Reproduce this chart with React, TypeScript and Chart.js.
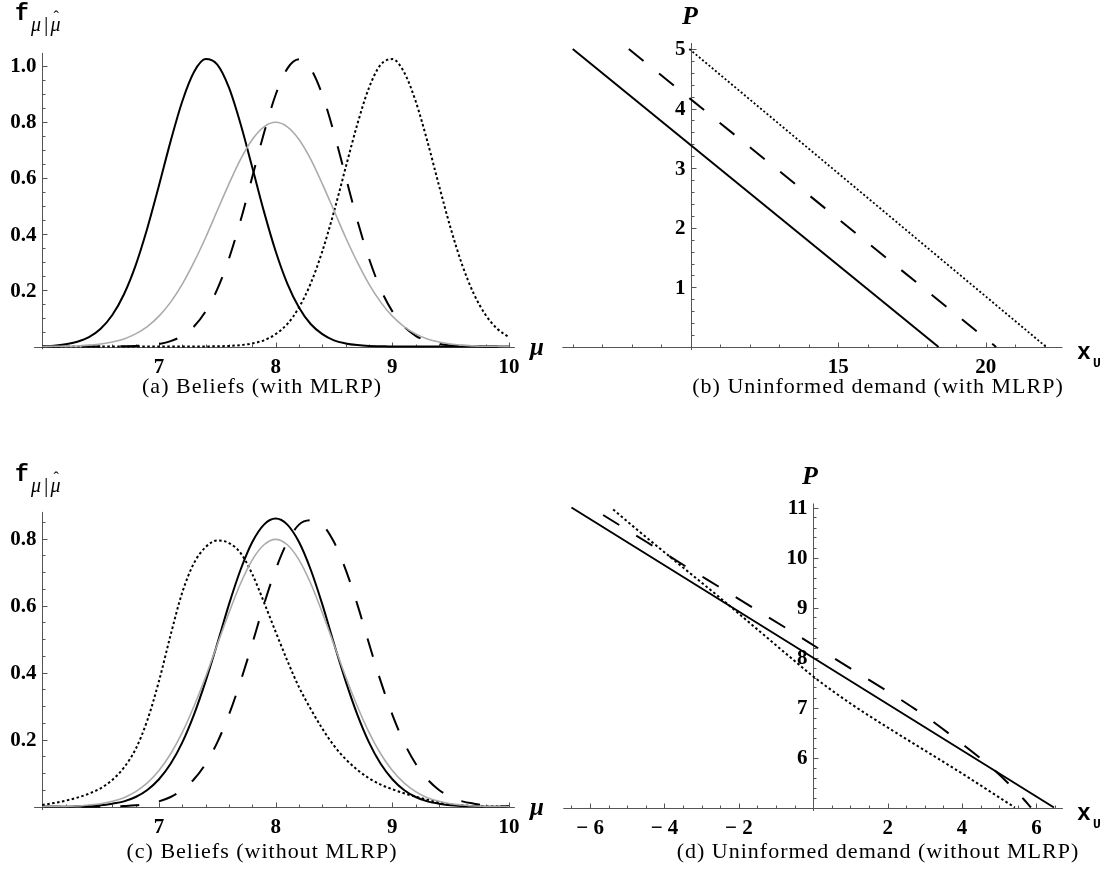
import React, { useEffect, useRef } from "react";
import { Chart, registerables } from "chart.js";

Chart.register(...registerables);

// ---------- data ----------
const MU_GRID = [6.0, 6.1, 6.2, 6.3, 6.4, 6.5, 6.6, 6.7, 6.8, 6.9, 7.0, 7.1, 7.2, 7.3, 7.4, 7.5, 7.6, 7.7, 7.8, 7.9, 8.0, 8.1, 8.2, 8.3, 8.4, 8.5, 8.6, 8.7, 8.8, 8.9, 9.0, 9.1, 9.2, 9.3, 9.4, 9.5, 9.6, 9.7, 9.8, 9.9, 10.0];

// (a) beliefs with MLRP
const A_SOLID = [0.001, 0.003, 0.008, 0.017, 0.033, 0.063, 0.112, 0.186, 0.289, 0.421, 0.573, 0.731, 0.873, 0.977, 1.023, 1.003, 0.921, 0.791, 0.637, 0.480, 0.339, 0.224, 0.139, 0.080, 0.044, 0.022, 0.011, 0.005, 0.002, 0.001, 0, 0, 0, 0, 0, 0, 0, 0, 0, 0, 0];
const A_DASHED = [0, 0, 0, 0, 0, 0, 0, 0.001, 0.002, 0.004, 0.009, 0.019, 0.038, 0.071, 0.125, 0.204, 0.313, 0.449, 0.604, 0.760, 0.896, 0.989, 1.022, 0.989, 0.896, 0.760, 0.604, 0.449, 0.313, 0.204, 0.125, 0.071, 0.038, 0.019, 0.009, 0.004, 0.002, 0.001, 0, 0, 0];
const A_DOTTED = [0, 0, 0, 0, 0, 0, 0, 0, 0, 0, 0, 0, 0, 0, 0, 0.001, 0.002, 0.005, 0.011, 0.022, 0.044, 0.080, 0.139, 0.224, 0.339, 0.480, 0.637, 0.791, 0.921, 1.003, 1.023, 0.977, 0.873, 0.731, 0.573, 0.421, 0.289, 0.186, 0.112, 0.063, 0.033];
const PRIOR_GRAY = [0.000, 0.001, 0.001, 0.002, 0.005, 0.009, 0.016, 0.027, 0.045, 0.071, 0.108, 0.158, 0.222, 0.300, 0.388, 0.484, 0.579, 0.667, 0.737, 0.782, 0.798, 0.782, 0.737, 0.667, 0.579, 0.484, 0.388, 0.300, 0.222, 0.158, 0.108, 0.071, 0.045, 0.027, 0.016, 0.009, 0.005, 0.002, 0.001, 0.001, 0.000];

// (c) beliefs without MLRP
const C_SOLID = [0, 0, 0, 0.001, 0.002, 0.004, 0.009, 0.016, 0.029, 0.050, 0.082, 0.128, 0.192, 0.275, 0.375, 0.487, 0.604, 0.708, 0.790, 0.842, 0.860, 0.842, 0.790, 0.708, 0.604, 0.487, 0.375, 0.275, 0.192, 0.128, 0.082, 0.050, 0.029, 0.016, 0.009, 0.004, 0.002, 0.001, 0, 0, 0];
const C_DASHED = [0, 0, 0, 0, 0, 0, 0.001, 0.002, 0.004, 0.009, 0.016, 0.029, 0.050, 0.082, 0.128, 0.192, 0.275, 0.375, 0.487, 0.604, 0.708, 0.790, 0.842, 0.855, 0.842, 0.790, 0.708, 0.604, 0.487, 0.375, 0.275, 0.192, 0.128, 0.082, 0.050, 0.029, 0.016, 0.009, 0.004, 0.002, 0.001];
const C_DOTTED = [0.005, 0.011, 0.018, 0.027, 0.039, 0.055, 0.080, 0.117, 0.172, 0.258, 0.375, 0.513, 0.640, 0.727, 0.775, 0.795, 0.787, 0.757, 0.694, 0.610, 0.522, 0.436, 0.357, 0.292, 0.233, 0.182, 0.142, 0.110, 0.085, 0.066, 0.052, 0.040, 0.030, 0.021, 0.013, 0.007, 0.004, 0.002, 0.001, 0.001, 0.000];

// (b) uninformed demand with MLRP
const B_SOLID_X = [6.0, 18.4];
const B_SOLID_P = [5.0, 0.0];
const B_DASHED_X = [7.9, 20.35];
const B_DASHED_P = [5.0, 0.0];
const B_DOTTED_X = [9.95, 22.05];
const B_DOTTED_P = [5.0, 0.0];

// (d) uninformed demand without MLRP
const D_SOLID_X = [-6.5, 6.47];
const D_SOLID_P = [11.0, 5.0];
const D_DASHED_X = [-5.65, -4.48, -3.49, -2.55, -1.61, -0.67, 0.27, 1.26, 2.2, 3.12, 3.99, 4.88, 5.65, 5.85];
const D_DASHED_P = [10.85, 10.31, 9.85, 9.42, 8.99, 8.56, 8.12, 7.66, 7.23, 6.77, 6.28, 5.74, 5.17, 5.0];
const D_DOTTED_X = [-5.38, -4.5, -3.5, -2.5, -1.5, -0.5, 0, 1.0, 2.0, 3.0, 4.0, 5.0, 5.42];
const D_DOTTED_P = [10.96, 10.41, 9.8, 9.19, 8.56, 7.93, 7.62, 7.08, 6.6, 6.14, 5.68, 5.2, 5.0];

// tick labels
const BELIEF_X_TICKS = [7, 8, 9, 10];
const BELIEF_X_LABELS = ["7", "8", "9", "10"];
const A_Y_TICKS = [0.2, 0.4, 0.6, 0.8, 1.0];
const A_Y_LABELS = ["0.2", "0.4", "0.6", "0.8", "1.0"];
const C_Y_TICKS = [0.2, 0.4, 0.6, 0.8];
const C_Y_LABELS = ["0.2", "0.4", "0.6", "0.8"];
const B_X_TICKS = [15, 20];
const B_X_LABELS = ["15", "20"];
const B_Y_TICKS = [1, 2, 3, 4, 5];
const B_Y_LABELS = ["1", "2", "3", "4", "5"];
const D_X_TICKS = [-6, -4, -2, 2, 4, 6];
const D_X_LABELS = ["\u2212 6", "\u2212 4", "\u2212 2", "2", "4", "6"];
const D_Y_TICKS = [6, 7, 8, 9, 10, 11];
const D_Y_LABELS = ["6", "7", "8", "9", "10", "11"];

// ---------- helpers ----------
const AXIS_COLOR = "#555555";
const TICK_FONT = 'bold 21px "Liberation Serif", "Times New Roman", serif';

function minorTicks(from: number, to: number, step: number, skip: number[]) {
  const out: number[] = [];
  const n = Math.round((to - from) / step);
  for (let i = 0; i <= n; i++) {
    const v = +(from + i * step).toFixed(4);
    if (!skip.some((s) => Math.abs(s - v) < 1e-6)) out.push(v);
  }
  return out;
}

const mathAxes = {
  id: "mathAxes",
  beforeDatasetsDraw(chart: any) {
    const o = chart.options.plugins.mathAxes;
    if (!o) return;
    const { ctx } = chart;
    const xs = chart.scales.x;
    const ys = chart.scales.y;
    const px = (v: number) => xs.getPixelForValue(v);
    const py = (v: number) => ys.getPixelForValue(v);
    const ax = Math.round(px(o.originX)) + 0.5;
    const ay = Math.round(py(o.originY)) + 0.5;
    ctx.save();
    ctx.strokeStyle = AXIS_COLOR;
    ctx.lineWidth = 1;
    ctx.beginPath();
    ctx.moveTo(px(o.xFrom), ay);
    ctx.lineTo(px(o.xTo), ay);
    ctx.moveTo(ax, py(o.yFrom));
    ctx.lineTo(ax, py(o.yTo));
    o.xMinor.forEach((v: number) => {
      const p = Math.round(px(v)) + 0.5;
      ctx.moveTo(p, ay);
      ctx.lineTo(p, ay - 3);
    });
    o.xMajor.forEach((v: number) => {
      const p = Math.round(px(v)) + 0.5;
      ctx.moveTo(p, ay);
      ctx.lineTo(p, ay - 5);
    });
    o.yMinor.forEach((v: number) => {
      const p = Math.round(py(v)) + 0.5;
      ctx.moveTo(ax, p);
      ctx.lineTo(ax + 3, p);
    });
    o.yMajor.forEach((v: number) => {
      const p = Math.round(py(v)) + 0.5;
      ctx.moveTo(ax, p);
      ctx.lineTo(ax + 5, p);
    });
    ctx.stroke();
    ctx.fillStyle = "#000";
    ctx.font = TICK_FONT;
    ctx.textAlign = "center";
    ctx.textBaseline = "middle";
    o.xMajor.forEach((v: number, i: number) => ctx.fillText(o.xLabels[i], px(v), ay + 20));
    ctx.textAlign = "right";
    o.yMajor.forEach((v: number, i: number) => ctx.fillText(o.yLabels[i], ax - 6, py(v) + 1));
    ctx.restore();
  },
};

const pts = (xs: number[], ys: number[]) => xs.map((x, i) => ({ x, y: ys[i] }));

const DASH = [19, 20];
const DOT = [2.5, 2.5];

function lineDs(data: any[], kind: string, curved: boolean) {
  const base: any = {
    data,
    borderColor: "#000",
    borderWidth: 2,
    pointRadius: 0,
    fill: false,
    clip: false,
    tension: 0,
  };
  if (curved) {
    base.cubicInterpolationMode = "monotone";
  }
  if (kind === "gray") {
    base.borderColor = "#ababab";
    base.borderWidth = 1.6;
  } else if (kind === "dashed") {
    base.borderDash = DASH;
  } else if (kind === "dotted") {
    base.borderDash = DOT;
  }
  return base;
}

type PanelCfg = {
  left: number; top: number; w: number; h: number;
  plotL: number; plotR: number; plotT: number; plotB: number;
  xMin: number; xMax: number; yMin: number; yMax: number;
  datasets: any[];
  axes: any;
};

const PANELS: PanelCfg[] = [
  {
    left: 0, top: 0, w: 556, h: 400,
    plotL: 42.3, plotR: 509, plotT: 52.9, plotB: 346.5,
    xMin: 6, xMax: 10, yMin: 0, yMax: 1.045,
    datasets: [
      lineDs(pts(MU_GRID, PRIOR_GRAY), "gray", true),
      lineDs(pts(MU_GRID, A_SOLID), "solid", true),
      lineDs(pts(MU_GRID, A_DASHED), "dashed", true),
      lineDs(pts(MU_GRID, A_DOTTED), "dotted", true),
    ],
    axes: {
      originX: 6, originY: 0, xFrom: 5.93, xTo: 10.05, yFrom: -0.01, yTo: 1.045,
      xMajor: BELIEF_X_TICKS, xLabels: BELIEF_X_LABELS, xMinor: minorTicks(6.2, 9.8, 0.2, BELIEF_X_TICKS),
      yMajor: A_Y_TICKS, yLabels: A_Y_LABELS, yMinor: minorTicks(0.05, 1.0, 0.05, A_Y_TICKS),
    },
  },
  {
    left: 556, top: 0, w: 556, h: 400,
    plotL: 562.4, plotR: 1062.5, plotT: 43, plotB: 347,
    xMin: 5.65, xMax: 22.6, yMin: 0, yMax: 5.1,
    datasets: [
      lineDs(pts(B_SOLID_X, B_SOLID_P), "solid", false),
      lineDs(pts(B_DASHED_X, B_DASHED_P), "dashed", false),
      { ...lineDs(pts(B_DOTTED_X, B_DOTTED_P), "dotted", false), borderWidth: 1.8, borderDash: [2, 2.2] },
    ],
    axes: {
      originX: 10, originY: 0, xFrom: 5.65, xTo: 22.6, yFrom: -0.05, yTo: 5.1,
      xMajor: B_X_TICKS, xLabels: B_X_LABELS, xMinor: minorTicks(6, 22, 1, [10, 15, 20]),
      yMajor: B_Y_TICKS, yLabels: B_Y_LABELS, yMinor: minorTicks(0.2, 5.0, 0.2, B_Y_TICKS),
    },
  },
  {
    left: 0, top: 440, w: 556, h: 452,
    plotL: 42.3, plotR: 509, plotT: 511.9, plotB: 806.7,
    xMin: 6, xMax: 10, yMin: 0, yMax: 0.88,
    datasets: [
      lineDs(pts(MU_GRID, PRIOR_GRAY), "gray", true),
      lineDs(pts(MU_GRID, C_SOLID), "solid", true),
      lineDs(pts(MU_GRID, C_DASHED), "dashed", true),
      lineDs(pts(MU_GRID, C_DOTTED), "dotted", true),
    ],
    axes: {
      originX: 6, originY: 0, xFrom: 5.93, xTo: 10.05, yFrom: -0.01, yTo: 0.88,
      xMajor: BELIEF_X_TICKS, xLabels: BELIEF_X_LABELS, xMinor: minorTicks(6.2, 9.8, 0.2, BELIEF_X_TICKS),
      yMajor: C_Y_TICKS, yLabels: C_Y_LABELS, yMinor: minorTicks(0.05, 0.85, 0.05, C_Y_TICKS),
    },
  },
  {
    left: 556, top: 440, w: 556, h: 452,
    plotL: 563.3, plotR: 1062.9, plotT: 503.5, plotB: 807.5,
    xMin: -6.72, xMax: 6.71, yMin: 5, yMax: 11.08,
    datasets: [
      lineDs(pts(D_SOLID_X, D_SOLID_P), "solid", false),
      lineDs(pts(D_DASHED_X, D_DASHED_P), "dashed", true),
      lineDs(pts(D_DOTTED_X, D_DOTTED_P), "dotted", true),
    ],
    axes: {
      originX: 0, originY: 5, xFrom: -6.72, xTo: 6.71, yFrom: 4.93, yTo: 11.08,
      xMajor: D_X_TICKS, xLabels: D_X_LABELS, xMinor: minorTicks(-6.5, 6.5, 0.5, [...D_X_TICKS, 0]),
      yMajor: D_Y_TICKS, yLabels: D_Y_LABELS, yMinor: minorTicks(5.2, 11.0, 0.2, D_Y_TICKS),
    },
  },
];

function Panel({ cfg }: { cfg: PanelCfg }) {
  const ref = useRef<HTMLCanvasElement | null>(null);
  useEffect(() => {
    if (!ref.current) return;
    const chart = new Chart(ref.current, {
      type: "line",
      data: { datasets: cfg.datasets },
      options: {
        animation: false,
        responsive: false,
        devicePixelRatio: 1,
        parsing: false,
        layout: {
          padding: {
            left: cfg.plotL - cfg.left,
            right: cfg.left + cfg.w - cfg.plotR,
            top: cfg.plotT - cfg.top,
            bottom: cfg.top + cfg.h - cfg.plotB,
          },
        },
        scales: {
          x: { type: "linear", min: cfg.xMin, max: cfg.xMax, display: false },
          y: { type: "linear", min: cfg.yMin, max: cfg.yMax, display: false },
        },
        plugins: {
          legend: { display: false },
          tooltip: { enabled: false },
          mathAxes: cfg.axes,
        } as any,
      },
      plugins: [mathAxes as any],
    } as any);
    return () => chart.destroy();
  }, [cfg]);
  return (
    <canvas
      ref={ref}
      width={cfg.w}
      height={cfg.h}
      style={{ position: "absolute", left: cfg.left, top: cfg.top, width: cfg.w, height: cfg.h }}
    />
  );
}

const SERIF = '"Liberation Serif", "Times New Roman", serif';
const MONO = '"Liberation Mono", "Courier New", monospace';

function Txt({ left, top, font, children }: any) {
  return (
    <div style={{ position: "absolute", left, top, font, lineHeight: 1, whiteSpace: "nowrap", color: "#000" }}>
      {children}
    </div>
  );
}

function DensityLabel({ top }: { top: number }) {
  return (
    <>
      <Txt left={15} top={top} font={`bold 23px ${MONO}`}>f</Txt>
      <div
        style={{
          position: "absolute", left: 31, top: top + 10, font: `italic 20px ${SERIF}`,
          lineHeight: 1, whiteSpace: "nowrap", color: "#000",
        }}
      >
        μ
        <span style={{ fontStyle: "normal", fontSize: 22, margin: "0 2px 0 3px" }}>|</span>
        <span style={{ position: "relative" }}>
          μ
          <span style={{ position: "absolute", left: 3, top: -4, fontStyle: "normal", fontSize: 16 }}>ˆ</span>
        </span>
      </div>
    </>
  );
}

function Caption({ cx, top, children }: any) {
  return (
    <div
      style={{
        position: "absolute", left: cx - 300, top, width: 600, textAlign: "center",
        font: `22px ${SERIF}`, letterSpacing: "1px", lineHeight: 1, whiteSpace: "nowrap", color: "#000",
      }}
    >
      {children}
    </div>
  );
}

export default function App() {
  return (
    <div style={{ position: "absolute", left: 0, top: 0, width: 1112, height: 892, background: "#fff", overflow: "hidden" }}>
      {PANELS.map((p, i) => (
        <Panel key={i} cfg={p} />
      ))}
      {/* (a) axis titles */}
      <DensityLabel top={3.4} />
      <Txt left={530} top={333.6} font={`bold italic 25px ${SERIF}`}>μ</Txt>
      {/* (b) axis titles */}
      <Txt left={682} top={3.2} font={`bold italic 26px ${SERIF}`}>P</Txt>
      <Txt left={1077} top={342.4} font={`bold 23px ${MONO}`}>x</Txt>
      <Txt left={1093} top={357} font={`bold 13px ${MONO}`}>U</Txt>
      {/* (c) axis titles */}
      <DensityLabel top={464.4} />
      <Txt left={530} top={794} font={`bold italic 25px ${SERIF}`}>μ</Txt>
      {/* (d) axis titles */}
      <Txt left={802} top={463.2} font={`bold italic 26px ${SERIF}`}>P</Txt>
      <Txt left={1077} top={802.9} font={`bold 23px ${MONO}`}>x</Txt>
      <Txt left={1093} top={817.5} font={`bold 13px ${MONO}`}>U</Txt>
      {/* captions */}
      <Caption cx={262} top={374.5}>(a) Beliefs (with MLRP)</Caption>
      <Caption cx={878} top={374.5}>(b) Uninformed demand (with MLRP)</Caption>
      <Caption cx={262} top={840}>(c) Beliefs (without MLRP)</Caption>
      <Caption cx={878} top={840}>(d) Uninformed demand (without MLRP)</Caption>
    </div>
  );
}
